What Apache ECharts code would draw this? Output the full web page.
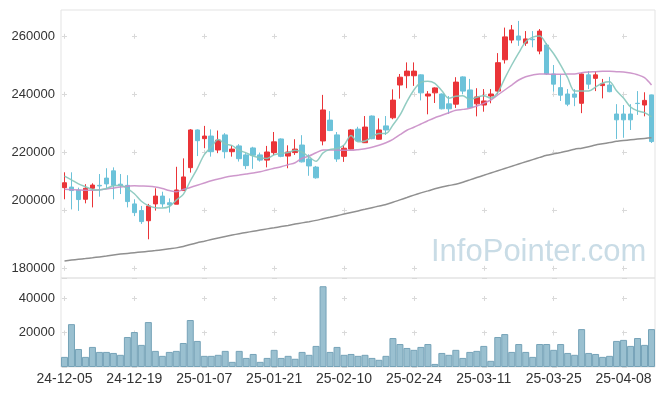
<!DOCTYPE html>
<html>
<head>
<meta charset="utf-8">
<script src="https://cdn.jsdelivr.net/npm/echarts@6/dist/echarts.min.js"></script>
<style>html,body{margin:0;padding:0;background:#fff}#main{width:665px;height:396px}</style>
</head>
<body>
<div id="main"></div>
<script>
const dates = ['24-12-05','24-12-06','24-12-09','24-12-10','24-12-11','24-12-12','24-12-13','24-12-16','24-12-17','24-12-18',
'24-12-19','24-12-20','24-12-23','24-12-24','24-12-26','24-12-27','24-12-30','25-01-02','25-01-03','25-01-06',
'25-01-07','25-01-08','25-01-09','25-01-10','25-01-13','25-01-14','25-01-15','25-01-16','25-01-17','25-01-20',
'25-01-21','25-01-22','25-01-23','25-01-24','25-01-31','25-02-03','25-02-04','25-02-05','25-02-06','25-02-07',
'25-02-10','25-02-11','25-02-12','25-02-13','25-02-14','25-02-17','25-02-18','25-02-19','25-02-20','25-02-21',
'25-02-24','25-02-25','25-02-26','25-02-27','25-02-28','25-03-04','25-03-05','25-03-06','25-03-07','25-03-10',
'25-03-11','25-03-12','25-03-13','25-03-14','25-03-17','25-03-18','25-03-19','25-03-20','25-03-21','25-03-24',
'25-03-25','25-03-26','25-03-27','25-03-28','25-03-31','25-04-01','25-04-02','25-04-03','25-04-04','25-04-07',
'25-04-08','25-04-09','25-04-10','25-04-11','25-04-14'];

const opens = [207800,208000,207000,203800,207600,208600,211100,213600,209000,208600,
202200,199900,196400,202200,204900,202600,202100,206800,214700,227700,
224700,225600,220800,226000,220200,222200,219100,221500,219100,217300,
219900,224600,218700,219900,222500,217700,214900,223900,231100,226000,
218600,221100,228000,223300,232500,224500,229100,231900,243200,246400,
246400,246700,239400,240500,240100,236700,236600,246000,241500,236700,
236300,239400,241100,251900,258700,260100,257600,259000,254900,257000,
247000,242300,240100,240100,236900,246700,245500,243000,243200,233200,
233200,233200,236900,236300,239800];
const closes = [209500,206800,203700,207600,208700,208400,209100,208600,208500,203000,
199200,196100,201500,204900,202200,201900,207000,211500,227700,224000,
225600,220200,224200,220200,221100,217800,215400,219000,217300,220100,
223600,218600,220100,221100,216700,215300,211200,234600,227500,217700,
221400,227700,223900,228700,224700,227700,227700,238000,245900,248000,
248000,240500,240100,242200,235000,235000,244200,241100,235400,239100,
237700,240100,250900,259800,262200,258700,259100,258800,261800,247000,
243500,239700,236600,239000,247000,243500,246700,243600,240900,231200,
231200,231200,236800,237900,223700];
const lows = [203800,200300,199800,202400,201000,204700,207700,203800,205600,201000,
198000,195300,190000,199900,201000,199200,202100,206800,213000,218700,
221400,218500,219700,217900,218500,216800,214200,214300,216800,214800,
219000,218300,214500,219100,216500,211900,210900,222400,227300,216700,
216700,221000,223700,223200,224500,224400,226000,231400,238500,242100,
242900,237900,233100,237000,234800,233200,235300,240000,235200,232400,
234000,236900,240000,250600,257600,256700,256700,256200,253800,246700,
240900,237700,235900,235900,233500,241800,241100,238600,240700,224600,
225000,227700,232900,232400,223200];
const highs = [213100,213100,207800,209000,209300,212500,214500,214800,212500,212100,
203800,201500,202200,207600,206400,204100,215000,217900,228000,227900,
229100,227900,227500,226600,222400,222800,219700,221900,219900,222200,
227000,224800,222400,224500,225900,219300,215300,239800,234200,227000,
222500,228000,228800,232500,232700,231700,232500,241700,247000,251000,
251000,246900,241100,242400,240300,239400,245900,246200,245300,242100,
241800,241800,254200,263000,263900,265300,261800,261800,262500,257700,
250100,246700,241800,241800,247200,248000,248000,245300,246000,236600,
236300,236600,241100,240700,239900];
const ma5 = [211800,210500,209100,208100,207200,207000,207500,208500,208600,207500,
205700,203100,201600,200900,200800,201300,203500,205500,210100,214400,
219200,221800,224400,222900,222300,220700,219800,218700,218100,217900,
219100,219700,219900,220700,220000,218400,216900,219800,221000,221300,
222500,225800,223600,223900,225300,226500,226500,229400,232800,237500,
241500,244100,244500,243800,241200,238600,239300,239500,238200,239000,
239500,238700,240600,245500,250100,254300,258100,259700,260100,257100,
254000,250100,245700,241100,241100,241100,242500,243900,244300,241200,
238700,235600,234300,233700,232200];
const ma20 = [207240,207100,207000,206900,206900,207100,207340,207690,208030,208280,
208480,208380,208280,208030,207520,206830,206410,207170,207860,208620,
209410,210210,210790,211380,211830,212150,212500,212860,213300,213900,
214480,215030,215720,216410,217930,218720,219860,220790,220790,220790,
220690,220690,220900,221240,221720,222410,223310,224480,226070,227590,
228620,229760,230890,231930,232760,233650,234480,234800,235170,235960,
236890,238030,239760,241480,243200,244930,246070,246650,247000,247000,
246900,246900,247000,247000,247450,247690,247790,247930,247930,247790,
247690,247340,246760,245720,243200];
const ma120 = [182550,182830,183100,183350,183620,183930,184240,184590,184900,185140,
185380,185620,185860,186100,186410,186730,187040,187480,188210,188830,
189350,189900,190450,190970,191450,191930,192350,192760,193170,193590,
193970,194380,194790,195240,195660,196070,196520,197070,197590,198140,
198690,199240,199790,200340,200900,201450,202030,202760,203590,204410,
205240,206000,206690,207410,208000,208520,209000,209690,210480,211280,
212070,212860,213650,214410,215170,215960,216720,217480,218240,218960,
219450,219930,220450,221070,221410,221900,222520,222930,223340,223790,
224070,224310,224550,224790,225030];
const volumes = [5900,25000,10500,5900,11700,8800,8800,8200,7100,17500,
20400,12900,26200,9400,6500,8800,9400,14000,27400,15200,
6500,6500,7100,9400,3000,9400,5300,7600,3000,5300,
10000,5300,6500,4800,8800,7100,12300,47100,8800,11700,
7100,7600,6500,7100,5300,4200,6500,16900,13400,11100,
10000,11700,13400,1800,8200,7100,10000,5300,8800,9400,
12300,3600,17500,19200,8800,13400,8800,5900,13400,13400,
10000,13400,8200,7100,22100,8200,7600,5900,6500,15200,
15800,12300,16900,12900,22100];
const priceTicks = [180000,200000,220000,240000,260000];
const watermark = 'InfoPointer.com';

const candleData = opens.map((o, i) => [o, closes[i], lows[i], highs[i]]);

const FONT = 'Liberation Sans';
const gridLineColor = '#d9d9d9';

const chart = echarts.init(document.getElementById('main'), null, {renderer: 'canvas'});
chart.setOption({
  animation: false,
  backgroundColor: '#ffffff',
  grid: [
    {left: 61, right: 10, top: 10, height: 268, show: true, borderColor: '#e3e3e3', borderWidth: 1},
    {left: 61, right: 10, top: 278, height: 89, show: true, borderColor: '#e3e3e3', borderWidth: 1}
  ],
  xAxis: [
    {
      type: 'category', gridIndex: 0, data: dates, boundaryGap: true,
      axisLine: {show: false}, axisTick: {show: false}, axisLabel: {show: false},
      splitLine: {show: true, interval: 9, alignWithLabel: true,
        lineStyle: {color: gridLineColor, width: 1, type: [5, 53], dashOffset: 34.2}}
    },
    {
      type: 'category', gridIndex: 1, data: dates, boundaryGap: true,
      axisLine: {show: false}, axisTick: {show: false},
      axisLabel: {interval: 9, fontSize: 14, fontFamily: FONT, color: '#333', margin: 5},
      splitLine: {show: true, interval: 9, alignWithLabel: true,
        lineStyle: {color: gridLineColor, width: 1, type: [5, 29.5], dashOffset: 16.5}}
    }
  ],
  yAxis: [
    {
      type: 'value', gridIndex: 0, min: 176650, max: 269070, scale: true,
      axisLine: {show: false},
      axisTick: {show: false, customValues: priceTicks},
      axisLabel: {customValues: priceTicks, fontSize: 13, fontFamily: FONT, color: '#333', margin: 6,
        formatter: v => v === 200000 ? '{up|' + v + '}' : String(v),
        rich: {up: {fontSize: 13, fontFamily: FONT, color: '#333', padding: [0, 0, 19, 0]}}},
      splitLine: {show: true, lineStyle: {color: gridLineColor, width: 1, type: [5, 65], dashOffset: 69}}
    },
    {
      type: 'value', gridIndex: 1, min: 0, max: 51900, interval: 20000,
      axisLine: {show: false}, axisTick: {show: false},
      axisLabel: {showMinLabel: false, showMaxLabel: false, fontSize: 13, fontFamily: FONT, color: '#333', margin: 6,
        formatter: v => String(v)},
      splitLine: {show: true, lineStyle: {color: gridLineColor, width: 1, type: [5, 65], dashOffset: 69}}
    }
  ],
  graphic: [{
    type: 'text', left: 431, top: 237, z: 1,
    style: {text: watermark, font: '31px "Liberation Sans"', fill: '#c9dce6'}
  }],
  series: [
    {
      type: 'candlestick', xAxisIndex: 0, yAxisIndex: 0, data: candleData, barWidth: 5, z: 3,
      itemStyle: {color: '#ea3438', color0: '#6cc2d9', borderColor: '#ea3438', borderColor0: '#6cc2d9', borderWidth: 1}
    },
    {type: 'line', xAxisIndex: 0, yAxisIndex: 0, data: ma120, showSymbol: false, smooth: 0.2, z: 4,
      lineStyle: {color: '#909090', width: 1.5}},
    {type: 'line', xAxisIndex: 0, yAxisIndex: 0, data: ma20, showSymbol: false, smooth: 0.3, z: 4,
      lineStyle: {color: '#c98dc6', width: 1.5, opacity: 0.9}},
    {type: 'line', xAxisIndex: 0, yAxisIndex: 0, data: ma5, showSymbol: false, smooth: 0.3, z: 4,
      lineStyle: {color: '#86c6bb', width: 1.5, opacity: 0.9}},
    {
      type: 'bar', xAxisIndex: 1, yAxisIndex: 1, data: volumes, barCategoryGap: '0%', z: 3,
      itemStyle: {color: '#9ac0d0', borderColor: '#76a3b8', borderWidth: 1}
    }
  ]
});
</script>
</body>
</html>
